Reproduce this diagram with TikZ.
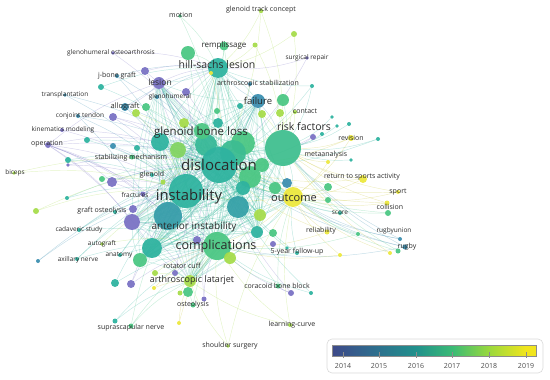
\documentclass[tikz,border=0pt]{standalone}
\usepackage{fontspec}
\setmainfont{Open Sans}
\definecolor{v14}{HTML}{7A72C4}
\definecolor{v15}{HTML}{3C8FB0}
\definecolor{v16}{HTML}{2FB3A0}
\definecolor{v17}{HTML}{4CC784}
\definecolor{v18}{HTML}{A6DC4C}
\definecolor{v19}{HTML}{ECE83E}
\definecolor{txt}{HTML}{2B2B2B}
\definecolor{vA}{HTML}{3E4989}
\definecolor{vB}{HTML}{2C728E}
\definecolor{vC}{HTML}{21918C}
\definecolor{vD}{HTML}{3BBB75}
\definecolor{vE}{HTML}{9BD93C}
\definecolor{vF}{HTML}{F1E51D}
\pgfdeclarehorizontalshading{viridis}{100bp}{color(0bp)=(vA); color(25bp)=(vA); color(36.7bp)=(vB); color(45.7bp)=(vC); color(54.6bp)=(vD); color(63.6bp)=(vE); color(72.5bp)=(vF); color(75bp)=(vF); color(100bp)=(vF)}
\pgfdeclarelayer{bg}
\pgfsetlayers{bg,main}
\tikzset{
  vdot/.style={circle, inner sep=0pt, draw=none, fill opacity=0.95},
  vlab/.style={text=txt, inner sep=0pt},
  vedge/.style={line width=0.45pt, draw opacity=0.3},
}
\newcommand\vn[5]{\node[vdot, minimum size=2*#4pt, fill=#5] (#1) at (#2,#3) {};}
\newcommand\vl[5]{\node[vlab, font=\fontsize{#4}{#4}\selectfont] (#1) at (#2,#3) {#5};}
\begin{document}
\begin{tikzpicture}[x=1pt, y=-1pt]
\useasboundingbox (0,0) rectangle (550,380);
% ---- nodes (big first) ----
\vn{risk}{283}{148}{18}{v16!40!v17}
\vn{gbG}{243}{143}{12}{v17}
\vn{dislD}{233}{153}{13}{v16!50!v17}
\vn{gblM}{206}{145}{11}{v16!70!v17}
\vn{dislB}{250}{177}{11}{v17}
\vn{disl}{219}{165}{18}{v16}
\vn{inst}{186}{191}{17}{v16}
\vn{instB}{168}{216}{14}{v15!60!v16}
\vn{comp}{217}{246}{14}{v17}
\vn{compB}{238}{207}{11}{v15!50!v16}
\vn{hs}{218}{68}{10}{v16}
\vn{tealC}{152}{248}{10}{v16}
\vn{outc}{293}{197}{10}{v19}
\vn{gblT}{160}{142}{9}{v16}
\vn{gblL}{178}{150}{8}{v18!60!v17}
\vn{dislC}{262}{165}{7}{v17}
\vn{tealB}{243}{188}{7}{v16}
\vn{purBig}{132}{222}{8}{v14}
\vn{green1}{202}{131}{8}{v17}
\vn{hsL}{188}{53}{7}{v17}
\vn{fail}{258}{101}{7}{v15}
\vn{greenC}{140}{260}{7}{v17}
\vn{failG}{283}{100}{6}{v17}
\vn{lesion}{159}{83}{6}{v14}
\vn{teal13}{257}{232}{6}{v16}
\vn{lime4}{260}{215}{6}{v18}
\vn{alat}{190}{281}{6}{v18}
\vn{lime1}{184}{123}{5}{v18}
\vn{teal5}{218}{123}{5}{v16}
\vn{outT}{287}{183}{5}{v15}
\vn{outG}{275}{188}{6}{v17}
\vn{compL}{230}{258}{6}{v18}
\vn{alatG}{188}{292}{5}{v17}
\vn{purE}{112}{182}{5}{v14}
\vn{remp}{224}{46}{4.5}{v17}
\vn{purA}{145}{71}{4}{v14}
\vn{purB}{186}{92}{4}{v14}
\vn{allo}{125}{107}{4}{v15}
\vn{alloG}{146}{107}{4}{v17}
\vn{alloL}{136}{113}{4}{v18}
\vn{purC}{113}{117}{4}{v14}
\vn{failL}{262}{114}{4}{v18}
\vn{failL2}{280}{113}{4}{v18}
\vn{green2}{328}{187}{4}{v17}
\vn{yell2}{363}{179}{4}{v19}
\vn{green5}{273}{233}{4}{v17}
\vn{purG}{197}{240}{4}{v14}
\vn{grpo}{133}{209}{4}{v14}
\vn{teal15}{115}{283}{4}{v16}
\vn{purH}{131}{284}{4}{v14}
\vn{gtcB}{294}{34}{3}{v18}
\vn{tealA}{101}{87}{3}{v16}
\vn{failT}{240}{106}{3}{v16}
\vn{failG2}{217}{111}{3}{v17}
\vn{purD}{313}{137}{3}{v14}
\vn{rev}{351}{138}{3}{v19}
\vn{oper}{48}{145}{3}{v14}
\vn{teal6}{87}{140}{3}{v16}
\vn{blue1}{113}{146}{3}{v15}
\vn{teal7}{137}{148}{3}{v16}
\vn{teal8}{68}{160}{3}{v16}
\vn{gr9}{102}{179}{3}{v17}
\vn{green3}{328}{200}{3}{v17}
\vn{collG}{388}{213}{3}{v17}
\vn{purF}{273}{244}{3}{v14}
\vn{lime5}{36}{211}{3}{v18}
\vn{rot}{155}{273}{3}{v18}
\vn{purI}{175}{273}{3}{v14}
\vn{purK}{291}{293}{3}{v14}
\vn{rempB}{255}{45}{2.5}{v18}
\vn{stab}{132}{157}{2.5}{v17}
\vn{lime9}{163}{182}{2.5}{v18}
\vn{fract}{143}{194}{2.5}{v14}
\vn{coll}{387}{203}{2.5}{v19}
\vn{rel}{327}{232}{2.5}{v19}
\vn{rugby}{405}{247}{2.5}{v15}
\vn{rugG}{398}{251}{2.5}{v17}
\vn{lime6}{180}{293}{2.5}{v18}
\vn{purJ}{204}{299}{2.5}{v14}
\vn{osteo}{193}{305}{2.5}{v17}
\vn{teal16}{115}{321}{2.5}{v16}
\vn{supra}{131}{326}{2.5}{v17}
\vn{cbb}{278}{286}{2.5}{v17}
\vn{gtc}{261}{11}{2.2}{v18}
\vn{hsY}{211}{73}{2}{v19}
\vn{jbg}{117}{76}{2}{v15}
\vn{ghum}{157}{97}{2}{v15}
\vn{astab}{250}{84}{2}{v15}
\vn{astabB}{312}{86}{2}{v16}
\vn{conj}{78}{116}{2}{v15}
\vn{kine}{62}{130}{2}{v14}
\vn{contact}{295}{112}{2}{v18}
\vn{teal2}{349}{124}{2}{v16}
\vn{teal4}{322}{134}{2}{v16}
\vn{revT}{378}{139}{2}{v16}
\vn{glen}{152}{175}{2}{v16}
\vn{teal10}{67}{198}{2}{v16}
\vn{yell1}{328}{162}{2}{v19}
\vn{sport}{398}{192}{2}{v19}
\vn{score}{340}{213}{2}{v16}
\vn{green4}{358}{234}{2}{v17}
\vn{rugu}{400}{239}{2}{v15}
\vn{rugY}{390}{253}{2}{v19}
\vn{yell3}{340}{255}{2}{v19}
\vn{fyfu}{297}{253}{2}{v16}
\vn{teal14}{115}{212}{2}{v16}
\vn{cad}{79}{230}{2}{v16}
\vn{axil}{77}{259}{2}{v16}
\vn{blue2}{38}{261}{2}{v15}
\vn{anat}{120}{255}{2}{v16}
\vn{yell4}{154}{288}{2}{v19}
\vn{yell5}{179}{323}{2}{v19}
\vn{teal17}{311}{293}{2}{v16}
\vn{lc}{290}{325}{2}{v18}
\vn{motion}{180}{16}{1.8}{v17}
\vn{gho}{113}{53}{1.8}{v14}
\vn{srep}{307}{58}{1.8}{v14}
\vn{transp}{65}{95}{1.8}{v15}
\vn{teal1}{332}{117}{1.8}{v16}
\vn{teal3}{337}{126}{1.8}{v16}
\vn{pur8}{68}{165}{1.8}{v14}
\vn{biceps}{14}{173}{1.8}{v18}
\vn{teal11}{351}{160}{1.8}{v16}
\vn{teal12}{287}{248}{1.8}{v16}
\vn{auto}{102}{244}{1.8}{v18}
\vn{shsurg}{228}{346}{1.8}{v18}
% ---- edges ----
\begin{pgfonlayer}{bg}
\foreach \a [count=\i] in {disl,risk,inst,instB,comp,compB,outc,gbG,gblT,gblL,gblM,dislB,dislC,dislD,hs,fail,tealC,greenC,teal13,lime4,green1,tealB,alat,purBig,lesion}{
  \foreach \b [count=\j] in {disl,risk,inst,instB,comp,compB,outc,gbG,gblT,gblL,gblM,dislB,dislC,dislD,hs,fail,tealC,greenC,teal13,lime4,green1,tealB,alat,purBig,lesion}{
    \ifnum\i<\j \draw[vedge, draw=v16!80!v17] (\a) to[bend left=10] (\b); \fi
  }
}
\foreach \a/\b in {oper/disl,oper/inst,oper/gblT,oper/purE,oper/purBig,oper/lesion,oper/instB,oper/tealC,oper/fract,oper/comp,
purA/hs,purA/disl,purA/inst,lesion/hs,lesion/disl,lesion/inst,lesion/allo,purB/disl,purB/hs,purB/inst,
purC/inst,purC/disl,purC/gblT,purE/inst,purE/disl,purE/instB,fract/inst,fract/disl,purBig/inst,purBig/comp,purBig/disl,purBig/alat,
grpo/inst,grpo/disl,purG/comp,purG/disl,purH/comp,purH/disl,purH/inst,purI/comp,purI/disl,purJ/comp,purJ/disl,
purK/comp,purK/disl,purK/cbb,purD/risk,purD/disl,srep/hs,srep/disl,gho/hs,gho/disl,kine/inst,kine/disl,pur8/disl,pur8/inst}
  \draw[vedge, draw=v14] (\a) to[bend left=10] (\b);
\foreach \a/\b in {jbg/disl,jbg/hs,jbg/inst,transp/disl,transp/inst,ghum/disl,ghum/hs,allo/disl,allo/inst,allo/hs,allo/gblT,
conj/inst,conj/disl,conj/alat,fail/risk,fail/disl,fail/hs,fail/inst,outT/disl,rugu/outc,rugu/disl,rugu/risk,
rugby/disl,rugby/outc,rugby/comp,rugby/risk,blue1/inst,blue1/disl,blue2/inst,blue2/disl,astab/disl,astab/hs}
  \draw[vedge, draw=v15] (\a) to[bend left=10] (\b);
\foreach \a/\b in {tealA/disl,tealA/hs,teal6/disl,teal6/inst,teal7/disl,teal8/inst,teal8/disl,glen/disl,glen/inst,teal10/inst,teal10/disl,
teal14/inst,cad/inst,cad/disl,cad/comp,axil/inst,axil/comp,axil/disl,anat/inst,anat/comp,anat/disl,teal15/comp,teal15/inst,
teal16/comp,teal16/alat,teal12/disl,fyfu/disl,fyfu/comp,fyfu/outc,score/outc,score/disl,teal1/risk,teal2/risk,teal3/risk,teal4/risk,
teal11/risk,revT/risk,revT/disl,teal17/comp,teal17/disl,teal5/disl,failT/disl,astabB/risk,astabB/disl,astabB/hs,hs/comp,hs/instB}
  \draw[vedge, draw=v16] (\a) to[bend left=10] (\b);
\foreach \a/\b in {motion/hs,motion/disl,remp/hs,remp/disl,remp/inst,hsL/hs,hsL/disl,hsL/inst,alloG/disl,alloG/inst,failG/risk,failG/disl,
failG2/disl,stab/disl,stab/inst,gr9/inst,gr9/disl,green2/outc,green2/risk,green3/outc,green4/outc,green4/comp,collG/outc,collG/disl,
rugG/outc,rugG/risk,green5/comp,osteo/alat,osteo/comp,supra/comp,supra/alat,supra/inst,cbb/comp,cbb/disl,cbb/outc,alatG/comp,outG/risk}
  \draw[vedge, draw=v17] (\a) to[bend left=10] (\b);
\foreach \a/\b in {gtc/hs,gtc/disl,gtc/risk,gtcB/hs,gtcB/risk,rempB/hs,rempB/risk,alloL/inst,alloL/disl,failL/risk,failL2/risk,
contact/risk,contact/disl,lime1/disl,lime9/disl,lime9/inst,lime5/inst,lime5/disl,auto/inst,auto/comp,rot/comp,rot/alat,
lime6/comp,shsurg/comp,shsurg/alat,shsurg/outc,lc/comp,lc/outc,lc/alat,biceps/inst,biceps/disl}
  \draw[vedge, draw=v18] (\a) to[bend left=10] (\b);
\foreach \a/\b in {hsY/disl,rev/risk,rev/outc,rev/disl,yell1/risk,yell1/outc,yell2/outc,yell2/risk,yell2/disl,sport/outc,sport/risk,sport/disl,
coll/outc,coll/disl,coll/risk,rel/outc,rel/comp,rel/disl,rugY/outc,rugY/risk,yell3/outc,yell3/comp,yell4/comp,yell4/alat,
yell5/comp,yell5/alat,outc/disl,outc/inst,outc/comp,outc/risk}
  \draw[vedge, draw=v19!85!black] (\a) to[bend left=10] (\b);
\end{pgfonlayer}
% ---- labels ----
\vl{Lmotion}{181}{15}{7}{motion}
\vl{Lgtc}{261}{10}{7}{glenoid track concept}
\vl{Lremp}{224}{45}{8}{remplissage}
\vl{Lgho}{111}{53}{6.5}{glenohumeral osteoarthrosis}
\vl{Lsrep}{307}{58}{6.5}{surgical repair}
\vl{Lhs}{217}{65}{10.5}{hill-sachs lesion}
\vl{Ljbg}{117}{76}{7}{j-bone graft}
\vl{Llesion}{160}{82}{8.5}{lesion}
\vl{Lastab}{258}{84}{7}{arthroscopic stabilization}
\vl{Ltransp}{65}{95}{6.5}{transplantation}
\vl{Lghum}{170}{97}{6.5}{glenohumeral}
\vl{Lallo}{125}{107}{7.5}{allograft}
\vl{Lfail}{258}{101}{9.5}{failure}
\vl{Lcontact}{305}{111}{7}{contact}
\vl{Lconj}{80}{116}{6.5}{conjoint tendon}
\vl{Lkine}{63}{130}{6.5}{kinematics modeling}
\vl{Lrisk}{304}{127}{10.5}{risk factors}
\vl{Lgbl}{201}{133}{11.5}{glenoid bone loss}
\vl{Lrev}{351}{138}{7}{revision}
\vl{Loper}{47}{144}{7}{operation}
\vl{Lmeta}{326}{155}{7}{metaanalysis}
\vl{Lstab}{131}{158}{7}{stabilizing mechanism}
\vl{Ldisl}{219}{165}{15}{dislocation}
\vl{Lbiceps}{15}{173}{6.5}{biceps}
\vl{Lglen}{152}{175}{7}{glenoid}
\vl{Lrts}{362}{177}{7}{return to sports activity}
\vl{Lfract}{135}{195}{6.5}{fractures}
\vl{Linst}{189}{197}{14.8}{instability}
\vl{Loutc}{294}{198}{11}{outcome}
\vl{Lsport}{398}{192}{7}{sport}
\vl{Lcoll}{390}{207}{7}{collision}
\vl{Lscore}{340}{213}{6.5}{score}
\vl{Lgrpo}{102}{211}{7}{graft osteolysis}
\vl{Lai}{194}{227}{10}{anterior instability}
\vl{Lcad}{79}{230}{6.5}{cadaveric study}
\vl{Lrel}{321}{231}{7}{reliability}
\vl{Lrugu}{394}{231}{6.5}{rugbyunion}
\vl{Lauto}{102}{244}{6.5}{autograft}
\vl{Lcomp}{216}{246}{12.5}{complications}
\vl{Lfyfu}{297}{252}{7}{5-year follow-up}
\vl{Lrugby}{407}{247}{7}{rugby}
\vl{Laxil}{78}{260}{6.5}{axillary nerve}
\vl{Lanat}{119}{255}{6.5}{anatomy}
\vl{Lrot}{182}{266}{7}{rotator cuff}
\vl{Lalat}{192}{280}{9}{arthroscopic latarjet}
\vl{Lcbb}{277}{286}{7}{coracoid bone block}
\vl{Losteo}{193}{305}{7}{osteolysis}
\vl{Lsupra}{131}{328}{7}{suprascapular nerve}
\vl{Llc}{292}{325}{7}{learning-curve}
\vl{Lshs}{230}{346}{7}{shoulder surgery}
% ---- legend ----
\draw[rounded corners=5pt, draw=black!15, fill=white, line width=0.6pt] (327,339) rectangle (543,373);
\shade[shading=viridis] (332,345) rectangle (536,356);
\draw[black!45, line width=0.4pt] (332,345) rectangle (536,356);
\foreach \x/\y in {343/2014,379/2015,416/2016,452/2017,489/2018,526/2019}{
  \draw[black!45, line width=0.4pt] (\x,352) -- (\x,358);
  \node[text=black!70, font=\fontsize{7}{7}\selectfont, inner sep=0pt] at (\x,366) {\y};
}
\end{tikzpicture}
\end{document}
